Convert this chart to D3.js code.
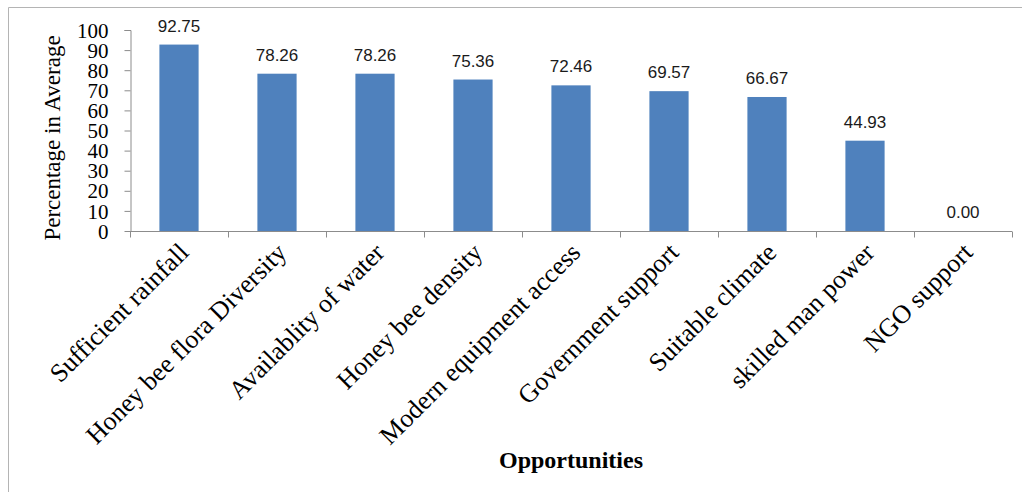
<!DOCTYPE html>
<html lang="en">
<head>
    <meta charset="UTF-8">
    <script src="https://d3js.org/d3.v7.min.js"></script>
    <title>Opportunities</title>
    <style>
        body { margin: 0; background: #fff; }
        svg { display: block; }
    </style>
</head>
<body>
    <div id="chart"></div>
    <script>
        // Categories and values
        const categories = ["Sufficient rainfall", "Honey bee flora Diversity", "Availablity of water",
            "Honey bee density", "Modern equipment access", "Government support",
            "Suitable climate", "skilled man power", "NGO support"];
        const values = [92.75, 78.26, 78.26, 75.36, 72.46, 69.57, 66.67, 44.93, 0.00];
        const yTicks = [0, 10, 20, 30, 40, 50, 60, 70, 80, 90, 100];

        const W = 1022, H = 492;
        const svg = d3.select("#chart").append("svg")
            .attr("width", W).attr("height", H);

        // outer frame (top and left edges visible)
        svg.append("path")
            .attr("d", `M8.5,${H} V7.5 H${W}`)
            .attr("fill", "none")
            .attr("stroke", "#b4b4b4")
            .attr("stroke-width", 1);

        const x = d3.scaleBand()
            .domain(categories)
            .range([130, 1012])
            .paddingInner(0.6)
            .paddingOuter(0.3);

        const y = d3.scaleLinear()
            .domain([0, 100])
            .range([231, 30]);

        const axisColor = "#8c8c8c";

        // y axis
        const yAxis = svg.append("g")
            .attr("transform", "translate(130.5,0)")
            .call(d3.axisLeft(y).tickValues(yTicks).tickSize(6).tickPadding(16));
        yAxis.select(".domain").attr("stroke", axisColor).attr("d", `M-6,${y(100)}.5H0.5V${y(0)}`);
        yAxis.selectAll(".tick line").attr("stroke", axisColor);
        yAxis.selectAll("text")
            .attr("fill", "#000")
            .attr("dy", "0.34em")
            .style("font-family", "'Liberation Serif', 'Times New Roman', serif")
            .style("font-size", "21px");

        // x axis line with ticks at band boundaries
        const xAxis = svg.append("g").attr("transform", "translate(0,231.5)");
        xAxis.append("line")
            .attr("x1", x.range()[0]).attr("x2", x.range()[1])
            .attr("stroke", axisColor);
        const bounds = categories.map(c => x(c) - x.step() * x.paddingInner() / 2)
            .concat([x.range()[1]]);
        xAxis.selectAll(".xt").data(bounds).enter().append("line")
            .attr("x1", d => Math.round(d) + 0.5).attr("x2", d => Math.round(d) + 0.5)
            .attr("y1", 0).attr("y2", 6)
            .attr("stroke", axisColor);

        // bars
        svg.selectAll(".bar")
            .data(categories)
            .enter().append("rect")
            .attr("class", "bar")
            .attr("x", d => x(d))
            .attr("y", (d, i) => y(values[i]))
            .attr("width", x.bandwidth())
            .attr("height", (d, i) => y(0) - y(values[i]))
            .attr("fill", "#4f81bd");

        // value labels
        svg.selectAll(".val")
            .data(categories)
            .enter().append("text")
            .attr("x", d => x(d) + x.bandwidth() / 2)
            .attr("y", (d, i) => y(values[i]) - 13)
            .attr("text-anchor", "middle")
            .attr("fill", "#1a1a1a")
            .style("font-family", "'Liberation Sans', Arial, sans-serif")
            .style("font-size", "17px")
            .text((d, i) => values[i].toFixed(2));

        // category labels, rotated
        svg.selectAll(".cat")
            .data(categories)
            .enter().append("text")
            .attr("transform", d => `translate(${x(d) + x.bandwidth() / 2 + 11},254) rotate(-45)`)
            .attr("text-anchor", "end")
            .attr("fill", "#000")
            .style("font-family", "'Liberation Serif', 'Times New Roman', serif")
            .style("font-size", "26px")
            .text(d => d);

        // axis titles
        svg.append("text")
            .attr("transform", "translate(60,138) rotate(-90)")
            .attr("text-anchor", "middle")
            .style("font-family", "'Liberation Serif', 'Times New Roman', serif")
            .style("font-size", "23px")
            .text("Percentage in Average");

        svg.append("text")
            .attr("x", 571).attr("y", 468)
            .attr("text-anchor", "middle")
            .style("font-family", "'Liberation Serif', 'Times New Roman', serif")
            .style("font-size", "24px")
            .style("font-weight", "bold")
            .text("Opportunities");
    </script>
</body>
</html>
